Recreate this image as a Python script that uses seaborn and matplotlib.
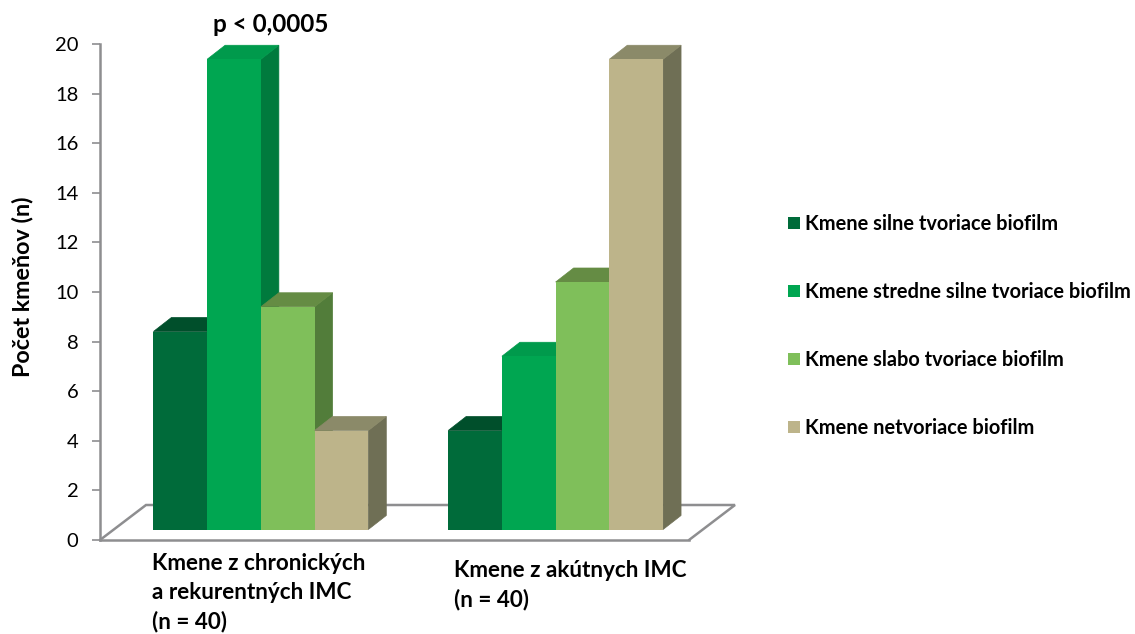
import matplotlib
matplotlib.use("Agg")
import matplotlib.pyplot as plt
from matplotlib.patches import Polygon
import pandas as pd
import seaborn as sns

W, H = 1135, 634

groups = ["Kmene z chronických\na rekurentných IMC\n(n = 40)", "Kmene z akútnych IMC\n(n = 40)"]
series = ["Kmene silne tvoriace biofilm", "Kmene stredne silne tvoriace biofilm",
          "Kmene slabo tvoriace biofilm", "Kmene netvoriace biofilm"]
silne = [8, 4]
stredne = [19, 7]
slabo = [9, 10]
netvoriace = [4, 19]
yticks = list(range(0, 21, 2))

front_colors = ["#006B3A", "#00A651", "#7FBF5A", "#BDB48A"]
side_colors = ["#00502B", "#007A3D", "#527D3A", "#6F6F55"]
top_colors = ["#004F2B", "#009A4C", "#658C44", "#8B8A69"]

sns.set_theme(style="white")
plt.rcParams["font.family"] = ["Lato", "DejaVu Sans"]


def axes_px(x0, x1, ytop, ybot):
    return [x0 / W, 1 - ybot / H, (x1 - x0) / W, (ybot - ytop) / H]


fig = plt.figure(figsize=(W / 100, H / 100), dpi=100, facecolor="white")

# Base axes: value axis and the floor of the 3D box
base = fig.add_axes(axes_px(100, 689, 44, 540), zorder=1)
base.set_xlim(0, 1)
base.set_ylim(0, 20)
base.set_xticks([])
base.set_yticks(yticks)
base.patch.set_visible(False)
grey = "#8E8E90"
for s in ("top", "right"):
    base.spines[s].set_visible(False)
for s in ("left", "bottom"):
    base.spines[s].set_color(grey)
    base.spines[s].set_linewidth(1.8)
base.tick_params(axis="y", length=5.5, width=1.2, color=grey, pad=10,
                 labelsize=14.5, labelcolor="black", left=True)
fdx, fdy = 46 / 589, 35 / 496 * 20
base.plot([0, fdx, 1 + fdx, 1], [0, fdy, fdy, 0], color=grey, lw=1.8,
          clip_on=False, solid_joinstyle="miter")

# Bars axes: shifted onto the floor
ax = fig.add_axes(axes_px(113.5, 703, 34.5, 529.5), zorder=2)
ax.patch.set_visible(False)
df = pd.DataFrame({
    "group": groups * 4,
    "series": [s for s in series for _ in groups],
    "value": silne + stredne + slabo + netvoriace,
})
sns.barplot(data=df, x="group", y="value", hue="series", hue_order=series,
            order=groups, palette=front_colors, width=0.729, saturation=1,
            linewidth=0, ax=ax)
ax.set_xlim(-0.5, 1.5)
ax.set_ylim(0, 20)
ax.set_axis_off()

dx, dy = 18 / 295, 14 / 24.75
color_of = dict(zip(front_colors, zip(side_colors, top_colors)))
bars = sorted([p for p in ax.patches if p.get_height() > 0], key=lambda p: p.get_x())
for i, bar in enumerate(bars):
    x0, x1, t = bar.get_x(), bar.get_x() + bar.get_width(), bar.get_height()
    hexc = matplotlib.colors.to_hex(bar.get_facecolor()).upper()
    side, top = color_of[hexc]
    ax.add_patch(Polygon([(x1, 0), (x1 + dx, dy), (x1 + dx, t + dy), (x1, t)],
                         fc=side, ec=side, lw=0.5, zorder=3 * i + 10, clip_on=False))
    ax.add_patch(Polygon([(x0, t), (x1, t), (x1 + dx, t + dy), (x0 + dx, t + dy)],
                         fc=top, ec=top, lw=0.5, zorder=3 * i + 11, clip_on=False))
    bar.set_zorder(3 * i + 12)

# Legend
sns.move_legend(ax, "upper left", bbox_to_anchor=(781 / W, 1 - 207 / H),
                bbox_transform=fig.transFigure, frameon=False, title=None,
                prop={"size": 14.4, "weight": "bold"}, handlelength=0.6,
                handleheight=0.6, handletextpad=0.25, labelspacing=2.4,
                borderpad=0.35, borderaxespad=0)
for t in ax.get_legend().get_texts():
    t.set_color("black")

# Text
txt = dict(fontsize=16.2, fontweight="bold", color="black", transform=fig.transFigure)
fig.text(152 / W, 1 - 553 / H, groups[0], ha="left", va="top", linespacing=1.45, **txt)
fig.text(454 / W, 1 - 560 / H, groups[1], ha="left", va="top", linespacing=1.45, **txt)
fig.text(271 / W, 1 - 24 / H, "p < 0,0005", ha="center", va="center", **{**txt, "fontsize": 17.5})
fig.text(23 / W, 1 - 287 / H, "Počet kmeňov (n)", rotation=90, ha="center", va="center",
         **{**txt, "fontsize": 16.8})

fig.savefig("out.png", dpi=100, facecolor="white")
